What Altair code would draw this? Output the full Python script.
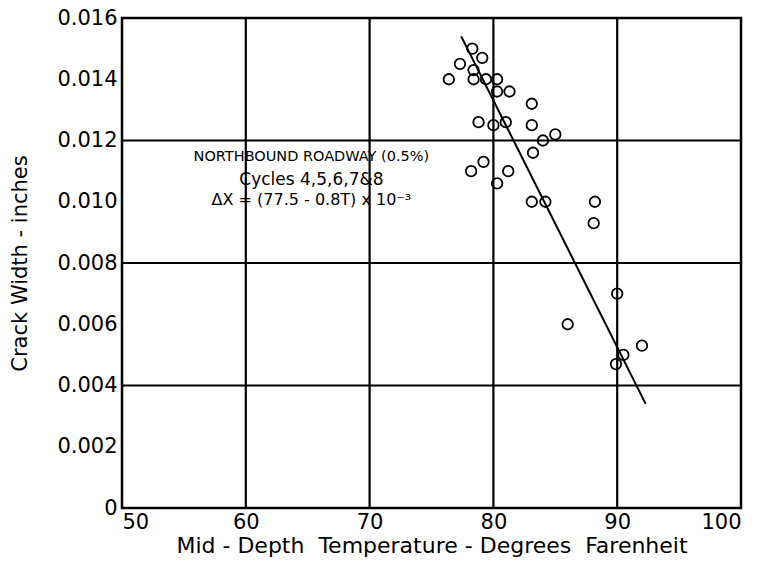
import altair as alt
import pandas as pd

# Data
temp = [78.3, 79.1, 77.3, 78.4, 76.4, 78.4, 79.4, 80.3, 80.3, 81.3, 83.1,
        78.8, 80.0, 81.0, 83.1, 85.0, 84.0, 83.2, 79.2, 78.2, 81.2, 80.3,
        83.1, 84.2, 88.2, 88.1, 90.0, 86.0, 92.0, 90.5, 89.9]
crack = [0.0150, 0.0147, 0.0145, 0.0143, 0.0140, 0.0140, 0.0140, 0.0140, 0.0136, 0.0136, 0.0132,
         0.0126, 0.0125, 0.0126, 0.0125, 0.0122, 0.0120, 0.0116, 0.0113, 0.0110, 0.0110, 0.0106,
         0.0100, 0.0100, 0.0100, 0.0093, 0.0070, 0.0060, 0.0053, 0.0050, 0.0047]
fit_t = [77.4, 92.3]
fit_x = [0.0154, 0.0034]
grid_x = [60, 70, 80, 90]
grid_y = [0.004, 0.008, 0.012]
y_ticks = [0, 0.002, 0.004, 0.006, 0.008, 0.010, 0.012, 0.014, 0.016]
x_ticks = [50, 60, 70, 80, 90, 100]
notes = ["NORTHBOUND ROADWAY (0.5%)", "Cycles 4,5,6,7&8", "ΔX = (77.5 - 0.8T) x 10⁻³"]
note_t = [65.3, 65.3, 65.3]
note_x = [0.01146, 0.01071, 0.01006]

FONT = "DejaVu Sans"
pts = pd.DataFrame({"t": temp, "w": crack})
fit = pd.DataFrame({"t": fit_t, "w": fit_x})
gx = pd.DataFrame({"t": grid_x})
gy = pd.DataFrame({"w": grid_y})
nt = pd.DataFrame({"t": note_t, "w": note_x, "label": notes, "size": [14.5, 17, 16]})

xs = alt.Scale(domain=[50, 100], nice=False, zero=False)
ys = alt.Scale(domain=[0, 0.016], nice=False)

xaxis = alt.Axis(values=x_ticks,
                 title="Mid - Depth\u00a0 Temperature - Degrees\u00a0 Farenheit",
                 grid=False, ticks=False, domain=False, labelFont=FONT, labelFontSize=21,
                 labelColor="black", labelPadding=3, titleFont=FONT, titleFontSize=22,
                 titleFontWeight="normal", titleColor="black", titlePadding=3)
yaxis = alt.Axis(values=y_ticks, title="Crack Width - inches", grid=False, ticks=False,
                 domain=False, labelFont=FONT, labelFontSize=21, labelColor="black",
                 labelPadding=5,
                 labelExpr="datum.value == 0 ? '0' : format(datum.value, '.3f')",
                 titleFont=FONT, titleFontSize=21, titleFontWeight="normal",
                 titleColor="black", titlePadding=26)

base_axes = alt.Chart(pts).mark_point(opacity=0).encode(
    x=alt.X("t:Q", scale=xs, axis=xaxis),
    y=alt.Y("w:Q", scale=ys, axis=yaxis),
)

vgrid = alt.Chart(gx).mark_rule(color="black", strokeWidth=2.2).encode(
    x=alt.X("t:Q", scale=xs))
hgrid = alt.Chart(gy).mark_rule(color="black", strokeWidth=2.2).encode(
    y=alt.Y("w:Q", scale=ys))

points = alt.Chart(pts).mark_point(shape="circle", filled=False, color="black",
                                   strokeWidth=1.8, size=110, opacity=1).encode(
    x=alt.X("t:Q", scale=xs), y=alt.Y("w:Q", scale=ys))

line = alt.Chart(fit).mark_line(color="black", strokeWidth=2).encode(
    x=alt.X("t:Q", scale=xs), y=alt.Y("w:Q", scale=ys))

text = alt.Chart(nt).mark_text(font=FONT, color="black", align="center",
                               baseline="middle").encode(
    x=alt.X("t:Q", scale=xs), y=alt.Y("w:Q", scale=ys), text="label:N",
    size=alt.Size("size:Q", scale=None, legend=None))

chart = alt.layer(base_axes, vgrid, hgrid, line, points, text).properties(
    width=619, height=490,
    autosize=alt.AutoSizeParams(type="none"),
    padding={"left": 122, "top": 18, "right": 18, "bottom": 59},
    background="white",
).configure_view(stroke="black", strokeWidth=2.5)

chart.save("out.html", embed_options={"renderer": "svg", "actions": False})
